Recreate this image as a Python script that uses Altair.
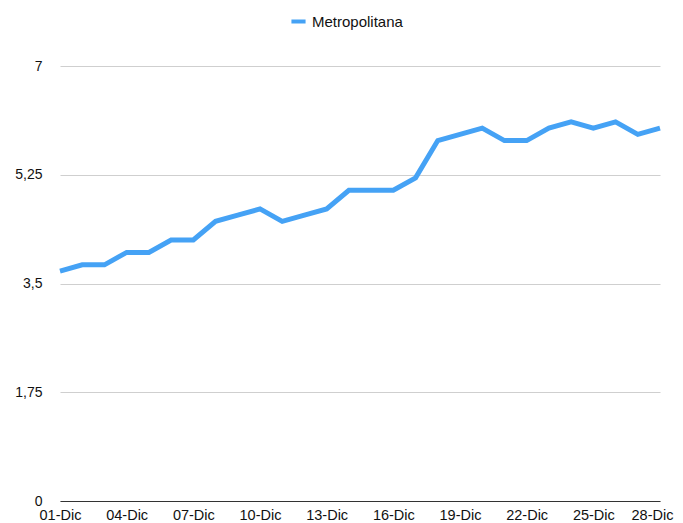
import altair as alt
import pandas as pd

days = [f"{d:02d}-Dic" for d in range(1, 29)]
values = [3.7, 3.8, 3.8, 4.0, 4.0, 4.2, 4.2, 4.5, 4.6, 4.7, 4.5, 4.6, 4.7, 5.0,
          5.0, 5.0, 5.2, 5.8, 5.9, 6.0, 5.8, 5.8, 6.0, 6.1, 6.0, 6.1, 5.9, 6.0]
series = "Metropolitana"
x_labels = [days[i] for i in range(0, 28, 3)]
y_ticks = [0, 1.75, 3.5, 5.25, 7]

df = pd.DataFrame({"dia": days, "valor": values, "serie": series})

FONT = "Liberation Sans"

chart = alt.Chart(df).mark_line(strokeWidth=5, strokeJoin="miter").encode(
    x=alt.X("dia:O", sort=days, title=None,
            scale=alt.Scale(type="point", padding=0),
            axis=alt.Axis(values=x_labels, labelAngle=0, ticks=False, grid=False,
                          domain=True, domainColor="#333333", domainWidth=1,
                          labelPadding=7, labelFontSize=14.5, labelColor="#111111",
                          labelFont=FONT,
                          labelOffset={"condition": {"test": "datum.value === '28-Dic'",
                                                     "value": -8}, "value": 0})),
    y=alt.Y("valor:Q", title=None,
            scale=alt.Scale(domain=[0, 7], nice=False, zero=True),
            axis=alt.Axis(values=y_ticks, ticks=False, domain=False, grid=True,
                          gridColor="#cfcfcf", gridWidth=1,
                          labelExpr="replace(toString(datum.value), '.', ',')",
                          labelPadding=18, labelFontSize=14, labelColor="#111111",
                          labelFont=FONT)),
    color=alt.Color("serie:N", title=None,
                    scale=alt.Scale(range=["#45a2f5"]),
                    legend=alt.Legend(orient="none", legendX=229, legendY=-54,
                                      symbolType="stroke", symbolStrokeWidth=4,
                                      symbolSize=200, labelFontSize=15,
                                      labelFont=FONT, labelColor="#111111",
                                      direction="horizontal")),
).properties(
    width=600, height=435,
    autosize=alt.AutoSizeParams(type="none"),
    padding={"left": 52, "top": 58, "right": 15, "bottom": 22},
).configure_view(stroke=None)

chart.save("out.html", embed_options={"renderer": "svg", "actions": False})
